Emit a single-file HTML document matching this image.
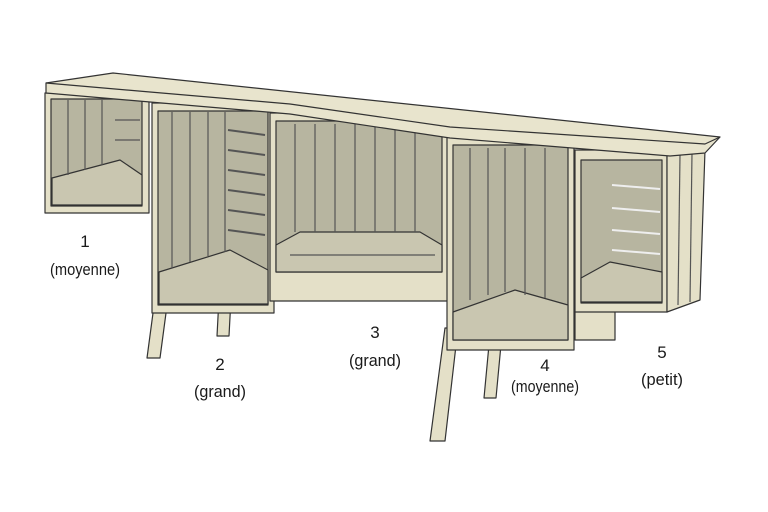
<!DOCTYPE html>
<html><head><style>
body{margin:0;background:#fff;width:768px;height:512px;overflow:hidden}
svg{display:block}
text{font-family:"Liberation Sans",sans-serif;font-size:17px;fill:#1a1a1a;stroke:none;text-anchor:middle}
</style></head><body>
<svg width="768" height="512" viewBox="0 0 768 512" stroke="#333" stroke-width="1.2" stroke-linejoin="round">
<!-- legs -->
<g fill="#e4e0c8">
<polygon points="147,358 160,358 172,268 159,268"/>
<polygon points="217,336 229,336 231,298 219,298"/>
<polygon points="430,441 445,441 458,328 445,328"/>
<polygon points="484,398 496,398 502,334 490,334"/>
<rect x="285" y="250" width="45" height="47"/>
<rect x="575" y="300" width="40" height="40"/>
</g>
<!-- crate 1 -->
<rect x="45" y="93" width="104" height="120" fill="#e4e0c8"/>
<polygon points="51,99 142,99 142,206 51,206" fill="#b7b5a0"/>
<polygon points="52,178 120,160 142,175 142,205 52,205" fill="#c9c6b0"/>
<g stroke="#555"><line x1="68" y1="100" x2="68" y2="175"/><line x1="85" y1="100" x2="85" y2="170"/><line x1="102" y1="100" x2="102" y2="165"/><line x1="115" y1="120" x2="140" y2="120"/><line x1="115" y1="140" x2="140" y2="140"/></g>
<!-- crate 2 -->
<rect x="152" y="103" width="122" height="210" fill="#e4e0c8"/>
<polygon points="158,111 268,111 268,305 158,305" fill="#b7b5a0"/>
<polygon points="159,272 230,250 268,270 268,304 159,304" fill="#c9c6b0"/>
<g stroke="#555"><line x1="172" y1="112" x2="172" y2="268"/><line x1="190" y1="112" x2="190" y2="262"/><line x1="208" y1="112" x2="208" y2="256"/><line x1="225" y1="112" x2="225" y2="252"/></g>
<g stroke="#555" stroke-width="2"><line x1="228" y1="130" x2="265" y2="135"/><line x1="228" y1="150" x2="265" y2="155"/><line x1="228" y1="170" x2="265" y2="175"/><line x1="228" y1="190" x2="265" y2="195"/><line x1="228" y1="210" x2="265" y2="215"/><line x1="228" y1="230" x2="265" y2="235"/></g>
<!-- crate 3 -->
<rect x="270" y="113" width="178" height="188" fill="#e4e0c8"/>
<polygon points="276,121 442,121 442,272 276,272" fill="#b7b5a0"/>
<polygon points="276,245 300,232 420,232 442,245 442,272 276,272" fill="#c9c6b0"/>
<g stroke="#555"><line x1="295" y1="124" x2="295" y2="232"/><line x1="315" y1="124" x2="315" y2="232"/><line x1="335" y1="124" x2="335" y2="232"/><line x1="355" y1="124" x2="355" y2="232"/><line x1="375" y1="124" x2="375" y2="232"/><line x1="395" y1="124" x2="395" y2="232"/><line x1="415" y1="124" x2="415" y2="232"/><line x1="290" y1="255" x2="435" y2="255"/></g>
<!-- crate 4 -->
<rect x="447" y="137" width="127" height="213" fill="#e4e0c8"/>
<polygon points="453,145 568,145 568,340 453,340" fill="#b7b5a0"/>
<polygon points="453,312 515,290 568,305 568,340 453,340" fill="#c9c6b0"/>
<g stroke="#555"><line x1="470" y1="148" x2="470" y2="300"/><line x1="488" y1="148" x2="488" y2="295"/><line x1="505" y1="148" x2="505" y2="292"/><line x1="525" y1="148" x2="525" y2="295"/><line x1="545" y1="148" x2="545" y2="298"/></g>
<!-- crate 5 -->
<rect x="575" y="150" width="92" height="162" fill="#e4e0c8"/>
<polygon points="667,152 705,150 700,300 667,312" fill="#e4e0c8"/>
<g stroke="#555"><line x1="680" y1="155" x2="678" y2="305"/><line x1="692" y1="153" x2="690" y2="302"/></g>
<polygon points="581,160 662,160 662,303 581,303" fill="#b7b5a0"/>
<polygon points="581,278 610,262 662,272 662,302 581,302" fill="#c9c6b0"/>
<g stroke="#eee" stroke-width="2"><line x1="612" y1="185" x2="660" y2="189"/><line x1="612" y1="208" x2="660" y2="212"/><line x1="612" y1="230" x2="660" y2="234"/><line x1="612" y1="250" x2="660" y2="254"/></g>
<!-- top plank -->
<polygon points="46,83 113,73 720,137 705,153 670,156 450,138 290,114 150,102 46,93" fill="#e8e4cd"/>
<polyline points="46,83 150,92 290,104 450,127 705,144 720,137" fill="none"/>
<text x="85" y="247" textLength="9">1</text><text x="85" y="275" textLength="70" lengthAdjust="spacingAndGlyphs">(moyenne)</text>
<text x="220" y="370">2</text><text x="220" y="397" textLength="52" lengthAdjust="spacingAndGlyphs">(grand)</text>
<text x="375" y="338">3</text><text x="375" y="366" textLength="52" lengthAdjust="spacingAndGlyphs">(grand)</text>
<text x="545" y="371">4</text><text x="545" y="392" textLength="68" lengthAdjust="spacingAndGlyphs">(moyenne)</text>
<text x="662" y="358">5</text><text x="662" y="385" textLength="42" lengthAdjust="spacingAndGlyphs">(petit)</text>
</svg>
</body></html>
